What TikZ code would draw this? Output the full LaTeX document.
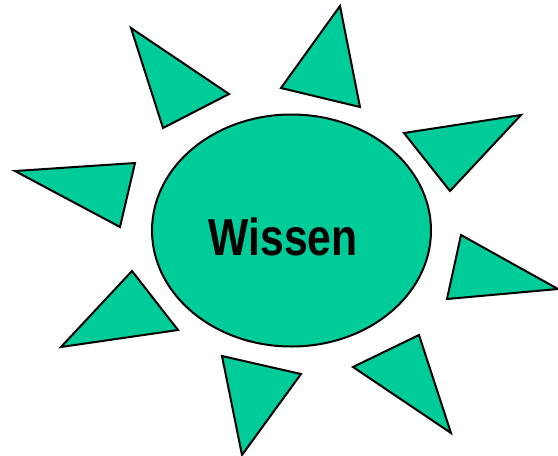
\documentclass[tikz,border=0pt]{standalone}
\usepackage{fontspec}
\usepackage{graphicx}
\setmainfont{Liberation Sans}
\usetikzlibrary{shapes.geometric}
\definecolor{cgreen}{HTML}{00CC99}

\begin{document}
\begin{tikzpicture}[
  x=1pt, y=-1pt,
  ray/.style={draw=black, fill=cgreen, line width=2pt, line join=miter},
  core/.style={ellipse, draw=black, fill=cgreen, line width=2pt, minimum width=279pt, minimum height=232pt, inner sep=0pt},
  word/.style={font=\fontsize{52}{52}\selectfont\bfseries, inner sep=0pt}]
  \useasboundingbox (0,0) rectangle (558,456);
  % centre
  \node[core] (sun) at (291.5,230.5) {};
  \node[word] (txt) at (283,236.5) {\scalebox{0.82}[1]{Wissen}};
  % rays, clockwise from the top
  \draw[ray] (340,6) -- (281,88) -- (360,107) -- cycle;
  \draw[ray] (404,133) -- (521,115) -- (450,191) -- cycle;
  \draw[ray] (461,235) -- (558,289) -- (447,299) -- cycle;
  \draw[ray] (419,335) -- (353,367) -- (451,433) -- cycle;
  \draw[ray] (222,356) -- (301,374) -- (242,455) -- cycle;
  \draw[ray] (132,271) -- (178,330) -- (61,347) -- cycle;
  \draw[ray] (15,171) -- (135,163) -- (120,227) -- cycle;
  \draw[ray] (131,28) -- (229,94) -- (163,128) -- cycle;
\end{tikzpicture}
\end{document}
